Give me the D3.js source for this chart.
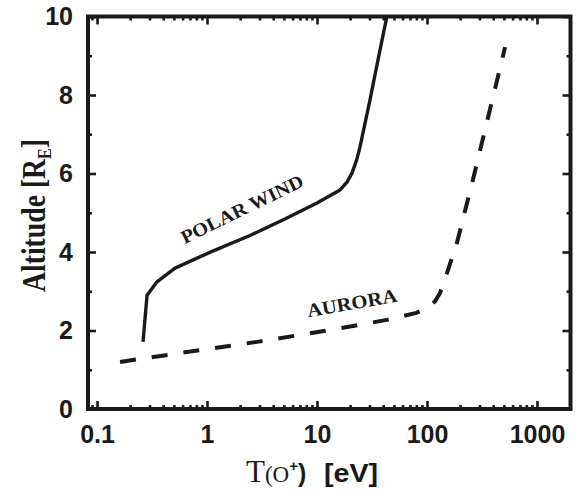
<!DOCTYPE html>
<html>
<head>
<meta charset="utf-8">
<script src="https://cdn.jsdelivr.net/npm/d3@7"></script>
<style>
  body { margin: 0; background: #fff; }
  svg { display: block; }
  .tick line { stroke: #1a1a1a; stroke-width: 2.6; }
  .tick text { font-family: "Liberation Sans", Arial, sans-serif; font-weight: bold; font-size: 25px; fill: #1a1a1a; }
</style>
</head>
<body>
<div id="chart"></div>
<script>
const width = 587, height = 496;

// polar wind curve (solid)
const polarT   = [0.262, 0.285, 0.351, 0.512, 1.02, 2.46, 5.0, 10.0, 16.2, 18.75, 20.8, 22.9, 24.6, 30.3, 37.4, 43.2];
const polarAlt = [1.71, 2.90, 3.24, 3.59, 3.97, 4.42, 4.83, 5.25, 5.58, 5.78, 6.01, 6.34, 6.68, 7.87, 9.15, 10.0];

// aurora curve (dashed)
const auroraT   = [0.162, 0.864, 2.85, 13.1, 43.2, 80, 100, 118, 131, 152, 187, 261, 513];
const auroraAlt = [1.20, 1.50, 1.71, 2.01, 2.27, 2.45, 2.57, 2.74, 2.95, 3.46, 4.23, 5.83, 9.22];

const xMajor = [0.1, 1, 10, 100, 1000];
const xLabels = ["0.1", "1", "10", "100", "1000"];
const yMajor = [0, 2, 4, 6, 8, 10];
const yMinor = [1, 3, 5, 7, 9];

const xMinor = [];
[0.01, 0.1, 1, 10, 100, 1000].forEach(d => {
  for (let k = 2; k <= 9; k++) xMinor.push(d * k);
});

const x = d3.scaleLog().domain([0.0828, 2017]).range([88, 570.5]);
const y = d3.scaleLinear().domain([0, 10]).range([409, 16.5]);
const xMin = xMinor.filter(v => v > x.domain()[0] && v < x.domain()[1]);

const svg = d3.select("#chart")
  .append("svg")
  .attr("width", width)
  .attr("height", height);

svg.append("clipPath").attr("id", "clip")
  .append("rect")
  .attr("x", x.range()[0]).attr("y", y.range()[1])
  .attr("width", x.range()[1] - x.range()[0])
  .attr("height", y.range()[0] - y.range()[1]);

function addAxis(axis, tr) {
  svg.append("g")
    .attr("transform", tr)
    .call(axis)
    .call(g => g.select(".domain").remove());
}

const atBottom = `translate(0,${y.range()[0]})`,
  atTop = `translate(0,${y.range()[1]})`,
  atLeft = `translate(${x.range()[0]},0)`,
  atRight = `translate(${x.range()[1]},0)`;

// minor ticks
addAxis(d3.axisBottom(x).tickValues(xMin).tickSize(-4).tickFormat(""), atBottom);
addAxis(d3.axisTop(x).tickValues(xMin).tickSize(-4).tickFormat(""), atTop);
addAxis(d3.axisLeft(y).tickValues(yMinor).tickSize(-4).tickFormat(""), atLeft);
addAxis(d3.axisRight(y).tickValues(yMinor).tickSize(-4).tickFormat(""), atRight);

// major ticks
addAxis(d3.axisBottom(x).tickValues(xMajor).tickSize(-8).tickPadding(16)
  .tickFormat((d, i) => xLabels[i]), atBottom);
addAxis(d3.axisTop(x).tickValues(xMajor).tickSize(-8).tickFormat(""), atTop);
addAxis(d3.axisLeft(y).tickValues(yMajor).tickSize(-8).tickPadding(15), atLeft);
addAxis(d3.axisRight(y).tickValues(yMajor).tickSize(-8).tickFormat(""), atRight);

// frame
svg.append("rect")
  .attr("x", x.range()[0]).attr("y", y.range()[1])
  .attr("width", x.range()[1] - x.range()[0])
  .attr("height", y.range()[0] - y.range()[1])
  .attr("fill", "none")
  .attr("stroke", "#1a1a1a")
  .attr("stroke-width", 4);

const line = d3.line()
  .x(d => x(d[0]))
  .y(d => y(d[1]));

svg.append("path")
  .datum(polarT.map((t, i) => [t, polarAlt[i]]))
  .attr("clip-path", "url(#clip)")
  .attr("d", line)
  .attr("fill", "none")
  .attr("stroke", "#1a1a1a")
  .attr("stroke-width", 3.4)
  .attr("stroke-linejoin", "round");

svg.append("path")
  .datum(auroraT.map((t, i) => [t, auroraAlt[i]]))
  .attr("clip-path", "url(#clip)")
  .attr("d", line)
  .attr("fill", "none")
  .attr("stroke", "#1a1a1a")
  .attr("stroke-width", 4)
  .attr("stroke-dasharray", "16,16")
  .attr("stroke-linejoin", "round");

// curve labels
const serif = "'Liberation Serif', 'Times New Roman', serif";
const sans = "'Liberation Sans', Arial, sans-serif";

svg.append("text")
  .attr("transform", "translate(242,209) rotate(-26)")
  .attr("text-anchor", "middle")
  .attr("dominant-baseline", "central")
  .attr("font-family", serif)
  .attr("font-weight", "bold")
  .attr("font-size", 19)
  .attr("fill", "#1a1a1a")
  .attr("textLength", 134)
  .attr("lengthAdjust", "spacingAndGlyphs")
  .text("POLAR WIND");

svg.append("text")
  .attr("transform", "translate(352,303) rotate(-10)")
  .attr("text-anchor", "middle")
  .attr("dominant-baseline", "central")
  .attr("font-family", serif)
  .attr("font-weight", "bold")
  .attr("font-size", 19)
  .attr("fill", "#1a1a1a")
  .attr("textLength", 91)
  .attr("lengthAdjust", "spacingAndGlyphs")
  .text("AURORA");

// y title
const yt = svg.append("text")
  .attr("transform", "translate(45,292) rotate(-90)")
  .attr("font-family", serif)
  .attr("font-weight", "bold")
  .attr("font-size", 33)
  .attr("fill", "#1a1a1a")
  .attr("textLength", 153)
  .attr("lengthAdjust", "spacingAndGlyphs");
yt.append("tspan").text("Altitude [R");
yt.append("tspan").attr("font-size", 19).attr("dy", 6).text("E");
yt.append("tspan").attr("dy", -6).text("]");

// x title
const xt = svg.append("text")
  .attr("x", 246).attr("y", 482)
  .attr("fill", "#1a1a1a");
xt.append("tspan").attr("font-family", serif).attr("font-size", 31).text("T");
xt.append("tspan").attr("font-family", serif).attr("font-size", 23).text("(O");
xt.append("tspan").attr("font-family", sans).attr("font-weight", "bold")
  .attr("font-size", 15).attr("dy", -11).text("+");
xt.append("tspan").attr("font-family", sans).attr("font-weight", "bold")
  .attr("font-size", 25).attr("dy", 11).text(")");
svg.append("text")
  .attr("x", 324).attr("y", 482)
  .attr("font-family", sans)
  .attr("font-weight", "bold")
  .attr("font-size", 25)
  .attr("fill", "#1a1a1a")
  .attr("textLength", 54)
  .attr("lengthAdjust", "spacingAndGlyphs")
  .text("[eV]");
</script>
</body>
</html>
